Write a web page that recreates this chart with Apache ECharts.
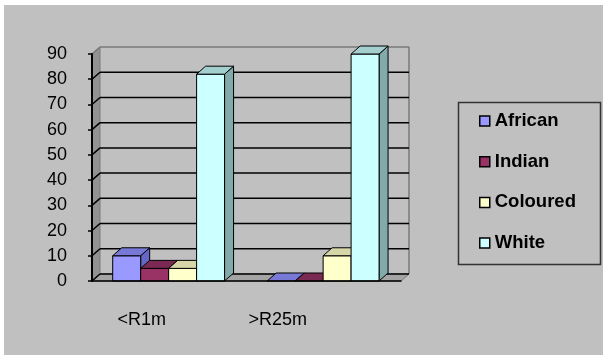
<!DOCTYPE html>
<html>
<head>
<meta charset="utf-8">
<script src="https://cdn.jsdelivr.net/npm/echarts@6/dist/echarts.min.js"></script>
<style>
  html, body { margin: 0; padding: 0; background: #ffffff; }
  #chart { width: 603px; height: 355px; }
</style>
</head>
<body>
<div id="chart"></div>
<script>
// Income bracket categories and share (%) of each population group
const categories = ['<R1m', '>R25m'];
const african = [10, 0];
const indian = [5, 0];
const coloured = [5, 10];
const white = [82, 90];
const groupNames = ['African', 'Indian', 'Coloured', 'White'];
const yTickValues = [0, 10, 20, 30, 40, 50, 60, 70, 80, 90];

// Face colours of the 3D columns: front, top, side
const palettes = [
  { front: '#9999FF', top: '#7878D6', side: '#6666C6' },
  { front: '#993366', top: '#7A2952', side: '#6A2346' },
  { front: '#FFFFCC', top: '#D6D6A8', side: '#B8B892' },
  { front: '#CCFFFF', top: '#A3CFCF', side: '#82AAAA' }
];
const seriesData = [african, indian, coloured, white];

// Depth offsets of the walls and of the columns
const WALL_DX = 8, WALL_DY = -7;
const BAR_DX = 9, BAR_DY = -8;
const LEAD_FRAC = 0.134;   // gap before the first column within a category
const BAR_FRAC = 0.181;    // column width as a share of the category band
const FONT = "'Liberation Sans', Arial, sans-serif";

function frameRenderer(params, api) {
  const r = params.coordSys;
  const x0 = r.x, x1 = r.x + r.width, yTop = r.y, yBot = r.y + r.height;
  const v = api.value(1);
  const y = api.coord([0, v])[1];
  const children = [];
  if (v === yTickValues[0]) {
    // side wall, floor and right edge of the back wall
    children.push({
      type: 'polygon',
      shape: { points: [[x0, yBot], [x0, yTop], [x0 + WALL_DX, yTop + WALL_DY], [x0 + WALL_DX, yBot + WALL_DY]] },
      style: { fill: '#929292', stroke: '#7a7a7a', lineWidth: 1 }
    });
    children.push({
      type: 'polygon',
      shape: { points: [[x0, yBot], [x1, yBot], [x1 + WALL_DX, yBot + WALL_DY], [x0 + WALL_DX, yBot + WALL_DY]] },
      style: { fill: '#a4a4a4', stroke: '#7a7a7a', lineWidth: 1 }
    });
    children.push({
      type: 'line',
      shape: { x1: x1 + WALL_DX, y1: yTop + WALL_DY, x2: x1 + WALL_DX, y2: yBot + WALL_DY },
      style: { stroke: '#7a7a7a', lineWidth: 1.5 }
    });
  }
  // gridline across the side wall and the back wall
  const isTop = v === yTickValues[yTickValues.length - 1];
  const col = isTop ? '#7a7a7a' : '#000000';
  children.push({
    type: 'line',
    shape: { x1: x0, y1: y, x2: x0 + WALL_DX, y2: y + WALL_DY },
    style: { stroke: col, lineWidth: 1.5 }
  });
  children.push({
    type: 'line',
    shape: { x1: x0 + WALL_DX, y1: y + WALL_DY, x2: x1 + WALL_DX, y2: y + WALL_DY },
    style: { stroke: col, lineWidth: 1.5 }
  });
  return { type: 'group', children: children };
}

function barRenderer(k, pal) {
  return function (params, api) {
    const cat = api.value(0), val = api.value(1);
    const topPt = api.coord([cat, val]);
    const basePt = api.coord([cat, 0]);
    const band = api.size([1, 0])[0];
    const w = band * BAR_FRAC;
    const x = topPt[0] - band / 2 + band * LEAD_FRAC + k * w;
    const yT = topPt[1], yB = basePt[1];
    const edge = { stroke: '#000000', lineWidth: 1 };
    const children = [];
    if (yB - yT > 0.5) {
      children.push({
        type: 'polygon',
        shape: { points: [[x + w, yT], [x + w + BAR_DX, yT + BAR_DY], [x + w + BAR_DX, yB + BAR_DY], [x + w, yB]] },
        style: Object.assign({ fill: pal.side }, edge)
      });
      children.push({
        type: 'rect',
        shape: { x: x, y: yT, width: w, height: yB - yT },
        style: Object.assign({ fill: pal.front }, edge)
      });
    }
    children.push({
      type: 'polygon',
      shape: { points: [[x, yT], [x + w, yT], [x + w + BAR_DX, yT + BAR_DY], [x + BAR_DX, yT + BAR_DY]] },
      style: Object.assign({ fill: pal.top }, edge)
    });
    return { type: 'group', children: children };
  };
}

const series = [{
  name: 'frame',
  type: 'custom',
  silent: true,
  renderItem: frameRenderer,
  data: yTickValues.map(v => [0, v]),
  z: 1
}];
groupNames.forEach((name, k) => {
  series.push({
    name: name,
    type: 'custom',
    renderItem: barRenderer(k, palettes[k]),
    itemStyle: { color: palettes[k].front },
    data: seriesData[k].map((v, i) => [i, v]),
    z: 2
  });
});

const chart = echarts.init(document.getElementById('chart'), null, { renderer: 'canvas' });
chart.setOption({
  animation: false,
  backgroundColor: '#ffffff',
  graphic: [{
    type: 'rect',
    shape: { x: 4, y: 5, width: 599, height: 350 },
    style: { fill: '#C0C0C0' },
    z: -10, silent: true
  }, {
    type: 'rect',
    shape: { x: 458.5, y: 102.5, width: 142, height: 162 },
    style: { fill: 'none', stroke: '#333333', lineWidth: 1.5 },
    z: 0, silent: true
  }],
  grid: { left: 92, top: 54, width: 309, height: 227 },
  xAxis: {
    type: 'category',
    data: categories,
    z: 5,
    axisLine: { lineStyle: { color: '#000000', width: 1.5 } },
    axisTick: { length: 7, lineStyle: { color: '#000000', width: 1 } },
    axisLabel: {
      margin: 30,
      color: '#000000',
      fontSize: 18,
      fontFamily: FONT,
      formatter: (value, index) => '{l' + index + '|' + value + '}',
      rich: {
        l0: { fontSize: 18, fontFamily: FONT, color: '#000000', padding: [0, 55, 0, 0] },
        l1: { fontSize: 18, fontFamily: FONT, color: '#000000', padding: [0, 92, 0, 0] }
      }
    },
    splitLine: { show: false }
  },
  yAxis: {
    type: 'value',
    min: 0, max: 90, interval: 10,
    z: 5,
    axisLine: { show: true, lineStyle: { color: '#000000', width: 2 } },
    axisTick: { show: true, length: 4, lineStyle: { color: '#000000', width: 1.5 } },
    axisLabel: { margin: 25, color: '#000000', fontSize: 18, fontFamily: FONT },
    splitLine: { show: false }
  },
  legend: {
    data: groupNames,
    orient: 'vertical',
    left: 458, top: 102,
    padding: [9, 10, 12, 21],
    itemGap: 20.7,
    itemWidth: 10, itemHeight: 10,
    icon: 'rect',
    borderWidth: 0,
    itemStyle: { borderColor: '#000000', borderWidth: 1.5 },
    textStyle: { fontSize: 18.5, fontWeight: 'bold', color: '#000000', fontFamily: FONT, lineHeight: 20 }
  },
  series: series
});
</script>
</body>
</html>
